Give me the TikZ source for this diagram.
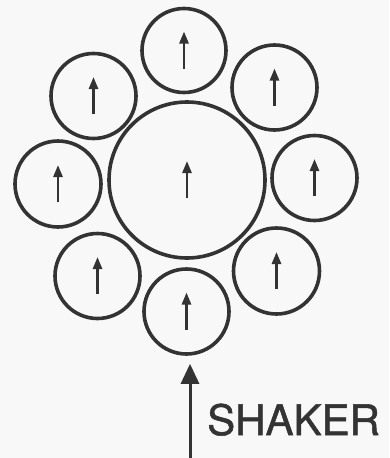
\documentclass[tikz,border=0pt]{standalone}
\usepackage{fontspec}
\newfontfamily\labfont{TeX Gyre Heros}[UprightFeatures={FakeBold=1.2}]
\usetikzlibrary{arrows.meta}
\definecolor{ink}{HTML}{333333}
\definecolor{paper}{HTML}{F8F8F8}
\begin{document}
\begin{tikzpicture}[x=1pt,y=-1pt,
  ring/.style={circle,draw=ink,line width=3.6pt,inner sep=0pt,minimum size=#1},
  spin/.style={draw=ink,line width=2.6pt,-{Triangle[length=12pt,width=9pt]}},
  drive/.style={draw=ink,line width=3pt,-{Triangle[length=20pt,width=18pt]}}]
\fill[paper] (0,0) rectangle (389,458);
\useasboundingbox (0,0) rectangle (389,458);
\node[ring=156pt] (big) at (187,180) {};
\node[ring=84pt] (t)  at (184,50.5) {};
\node[ring=85pt] (ul) at (93.5,96) {};
\node[ring=85pt] (ur) at (274.5,87.5) {};
\node[ring=86pt] (l)  at (58,184) {};
\node[ring=85pt] (r)  at (314.5,178) {};
\node[ring=85pt] (ll) at (97.5,276) {};
\node[ring=85pt] (b)  at (186.5,311.5) {};
\node[ring=86pt] (lr) at (276.5,271) {};
\foreach \n in {big,t,ul,ur,l,r,ll,b,lr}{
  \draw[spin] ([yshift=-18pt]\n.center) -- ([yshift=19pt]\n.center);
}
\coordinate (base) at (190,460);
\draw[drive,shorten >=8pt] (base) -- (base |- b.south);
\node[anchor=base west,inner sep=0pt,text=ink,font=\labfont\fontsize{42}{42}\selectfont] (lab) at (207,435) {SHAKER};
\end{tikzpicture}
\end{document}
